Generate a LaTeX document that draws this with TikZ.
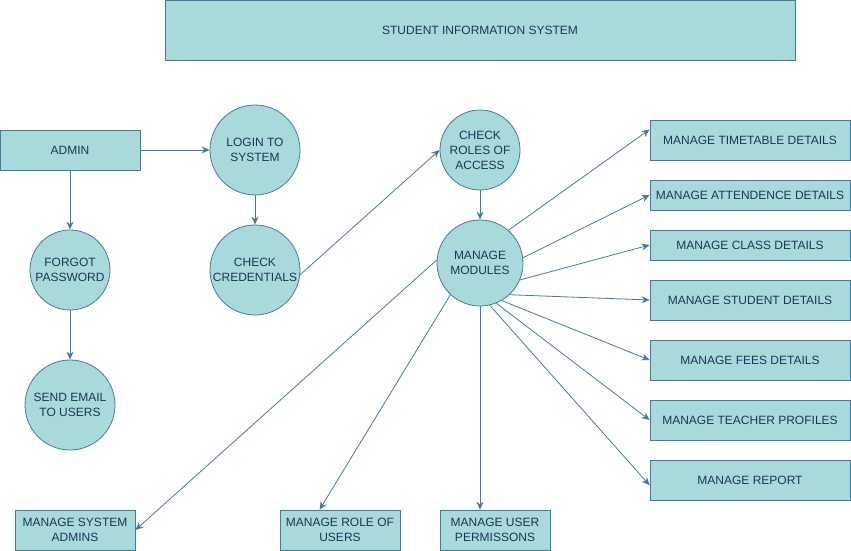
\documentclass[tikz,border=0pt]{standalone}
\usepackage{fontspec}
\setmainfont{Liberation Sans}
\usetikzlibrary{arrows.meta}
\definecolor{tealfill}{HTML}{A8DADC}
\definecolor{navyline}{HTML}{457B9D}
\definecolor{navytext}{HTML}{1D3557}
\tikzstyle{box} = [rectangle, draw=navyline, fill=tealfill, text=navytext, align=center, inner sep=0pt, line width=0.8pt]
\tikzstyle{bubble} = [circle, draw=navyline, fill=tealfill, text=navytext, align=center, inner sep=0pt, line width=0.8pt]
\tikzstyle{arrow} = [draw=navyline, line width=0.8pt, -{Stealth[length=8pt,width=7pt]}]

\begin{document}
\begin{tikzpicture}[x=1pt, y=-1pt, font=\fontsize{12}{15}\selectfont]
\useasboundingbox (0,0) rectangle (851,551);
\node [box, minimum width=630pt, minimum height=60pt] (title) at (480,30) {STUDENT INFORMATION SYSTEM};
\node [box, minimum width=140pt, minimum height=40pt] (admin) at (70,150) {ADMIN};
\node [bubble, minimum size=90pt] (login) at (255,150) {LOGIN TO\\SYSTEM};
\node [bubble, minimum size=90pt] (cred) at (255,270) {CHECK\\CREDENTIALS};
\node [bubble, minimum size=80pt] (forgot) at (70,270) {FORGOT\\PASSWORD};
\node [bubble, minimum size=90pt] (email) at (70,405) {SEND EMAIL\\TO USERS};
\node [bubble, minimum size=80pt] (roles) at (480,150) {CHECK\\ROLES OF\\ACCESS};
\node [bubble, minimum size=86pt] (modules) at (480,263) {MANAGE\\MODULES};
\node [box, minimum width=200pt, minimum height=40pt] (timetable) at (750,140) {MANAGE TIMETABLE DETAILS};
\node [box, minimum width=200pt, minimum height=30pt] (attend) at (750,195) {MANAGE ATTENDENCE DETAILS};
\node [box, minimum width=200pt, minimum height=30pt] (class) at (750,245) {MANAGE CLASS DETAILS};
\node [box, minimum width=200pt, minimum height=40pt] (student) at (750,300) {MANAGE STUDENT DETAILS};
\node [box, minimum width=200pt, minimum height=40pt] (fees) at (750,360) {MANAGE FEES DETAILS};
\node [box, minimum width=200pt, minimum height=40pt] (teacher) at (750,420) {MANAGE TEACHER PROFILES};
\node [box, minimum width=200pt, minimum height=40pt] (report) at (750,480) {MANAGE REPORT};
\node [box, minimum width=120pt, minimum height=40pt] (sysadmins) at (75,530) {MANAGE SYSTEM\\ADMINS};
\node [box, minimum width=120pt, minimum height=40pt] (roleusers) at (340,530) {MANAGE ROLE OF\\USERS};
\node [box, minimum width=110pt, minimum height=40pt] (userperm) at (495,530) {MANAGE USER\\PERMISSONS};
\draw [arrow] (admin) -- (login);
\draw [arrow] (admin) -- (forgot);
\draw [arrow] (forgot) -- (email);
\draw [arrow] (login) -- (cred);
\draw [arrow] (cred.354) -- (roles.180);
\draw [arrow] (roles) -- (modules);
\draw [arrow] (modules.49) -- (timetable.174);
\draw [arrow] (modules.7) -- (attend.west);
\draw [arrow] (modules.337) -- (class.west);
\draw [arrow] (modules.313) -- (student.west);
\draw [arrow] (modules.300) -- (fees.west);
\draw [arrow] (modules.292) -- (teacher.west);
\draw [arrow] (modules.283) -- (report.183);
\draw [arrow] (modules.176) -- (sysadmins.east);
\draw [arrow] (modules.227) -- (roleusers.135);
\draw [arrow] (modules.south) -- (modules.south |- userperm.north);
\end{tikzpicture}
\end{document}
